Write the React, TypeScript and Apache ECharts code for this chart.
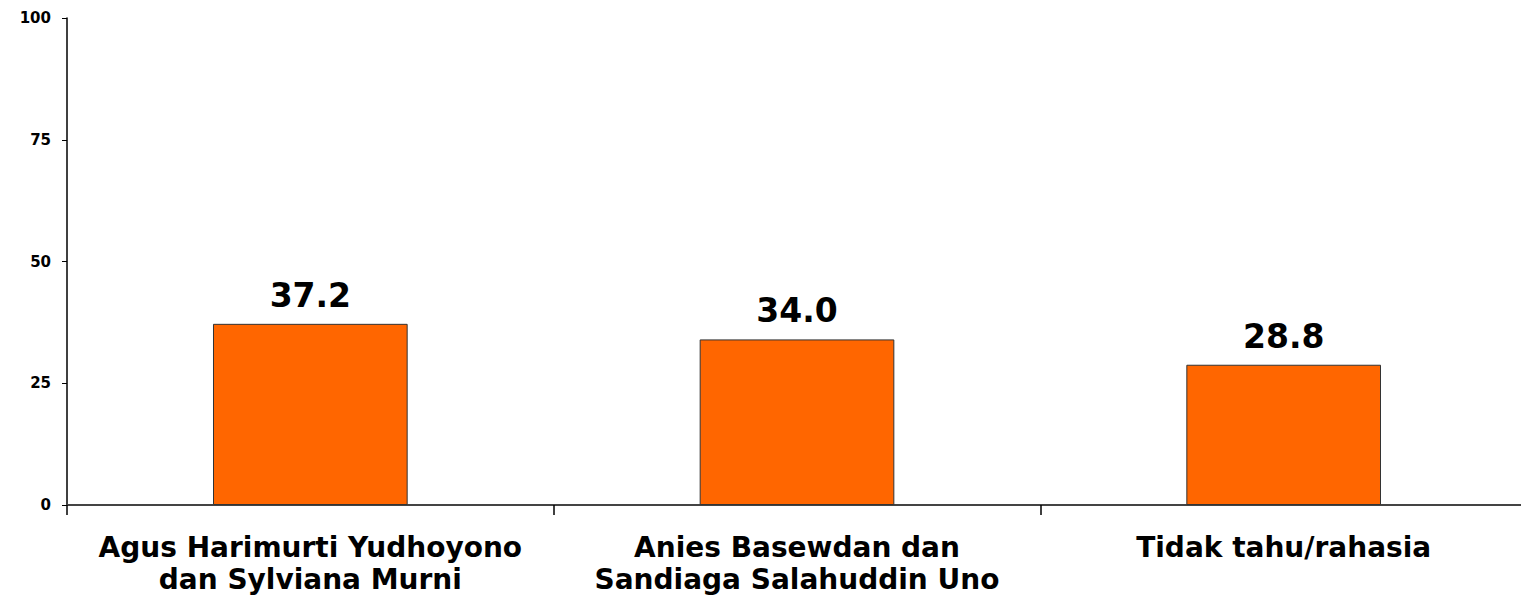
import React, { useEffect, useRef } from "react";
import * as echarts from "echarts";

const categories = [
  "Agus Harimurti Yudhoyono\ndan Sylviana Murni",
  "Anies Basewdan dan\nSandiaga Salahuddin Uno",
  "Tidak tahu/rahasia",
];
const values = [37.2, 34.0, 28.8];
const yTicks = [0, 25, 50, 75, 100];

export default function App() {
  const ref = useRef<HTMLDivElement>(null);
  useEffect(() => {
    const chart = echarts.init(ref.current!, null, { renderer: "svg" });
    const font = "Verdana, 'DejaVu Sans', sans-serif";
    chart.setOption({
      animation: false,
      grid: { left: 67, right: -6, top: 18, bottom: 92, outerBoundsMode: "none", containLabel: false },
      xAxis: {
        type: "category",
        data: categories,
        axisLine: { lineStyle: { color: "#444", width: 2 } },
        axisTick: { show: true, length: 10, lineStyle: { color: "#000", width: 1.5 } },
        axisLabel: {
          color: "#000",
          fontFamily: font,
          fontWeight: "bold",
          fontSize: 28,
          lineHeight: 32,
          margin: 26,
          interval: 0,
        },
      },
      yAxis: {
        type: "value",
        min: yTicks[0],
        max: yTicks[yTicks.length - 1],
        interval: 25,
        splitLine: { show: false },
        axisLine: { show: true, lineStyle: { color: "#000", width: 1.5 } },
        axisTick: { show: true, length: 5, lineStyle: { color: "#000" } },
        axisLabel: {
          color: "#000",
          fontFamily: font,
          fontWeight: "bold",
          fontSize: 15,
          margin: 16,
        },
      },
      series: [
        {
          type: "bar",
          data: values,
          barWidth: "40%",
          itemStyle: { color: "#FF6600", borderColor: "#333", borderWidth: 1 },
          label: {
            show: true,
            position: "top",
            distance: 12,
            color: "#000",
            fontFamily: font,
            fontWeight: "bold",
            fontSize: 33,
            formatter: (p: any) => Number(p.value).toFixed(1),
          },
        },
      ],
    });
    return () => chart.dispose();
  }, []);
  return (
    <div
      ref={ref}
      style={{ position: "fixed", left: 0, top: 0, width: 1521, height: 597, background: "#fff" }}
    />
  );
}
